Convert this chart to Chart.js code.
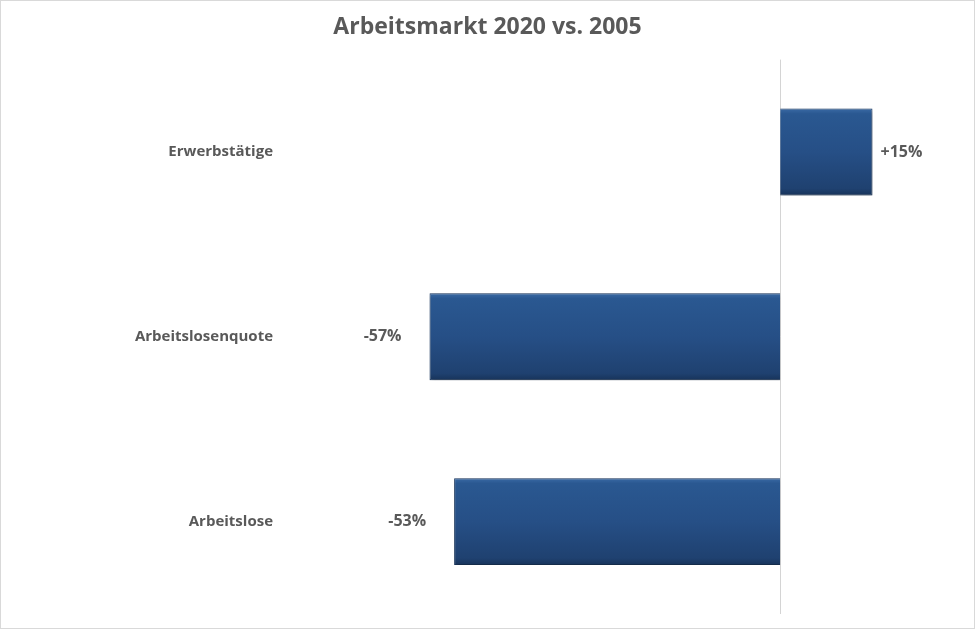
<!DOCTYPE html>
<html>
<head>
<meta charset="utf-8">
<style>
  html, body { margin: 0; padding: 0; background: #fff; }
  #wrap { position: relative; width: 975px; height: 629px; box-sizing: border-box; border: 1px solid #d9d9d9; }
</style>
</head>
<body>
<div id="wrap">
  <canvas id="myChart" width="973" height="627"></canvas>
</div>
<script src="https://cdn.jsdelivr.net/npm/chart.js"></script>
<script>
  const categories = ["Erwerbstätige", "Arbeitslosenquote", "Arbeitslose"];
  const values = [15, -57, -53];
  const valueLabels = ["+15%", "-57%", "-53%"];

  const textColor = "#595959";
  const font = "'Open Sans', Lato, sans-serif";

  // vertical line at zero
  const zeroLine = {
    id: "zeroLine",
    beforeDatasetsDraw(chart) {
      const ctx = chart.ctx;
      const a = chart.chartArea;
      const x = Math.round(chart.scales.x.getPixelForValue(0)) + 0.5;
      ctx.save();
      ctx.strokeStyle = "#d4d4d4";
      ctx.lineWidth = 1;
      ctx.beginPath();
      ctx.moveTo(x, a.top);
      ctx.lineTo(x, a.bottom);
      ctx.stroke();
      ctx.restore();
    },
  };

  // labels next to the bar ends
  const barLabels = {
    id: "barLabels",
    afterDatasetsDraw(chart) {
      const ctx = chart.ctx;
      const meta = chart.getDatasetMeta(0);
      ctx.save();
      ctx.font = "bold 16px " + font;
      ctx.fillStyle = textColor;
      ctx.textBaseline = "middle";
      meta.data.forEach((bar, i) => {
        if (values[i] >= 0) {
          ctx.textAlign = "left";
          ctx.fillText(valueLabels[i], bar.x + 8, bar.y);
        } else {
          ctx.textAlign = "right";
          ctx.fillText(valueLabels[i], bar.x - 28, bar.y);
        }
      });
      ctx.restore();
    },
  };

  // soft shadow under bars
  const barShadow = {
    id: "barShadow",
    beforeDatasetsDraw(chart) {
      const ctx = chart.ctx;
      ctx.save();
      ctx.shadowColor = "rgba(0,0,0,0.35)";
      ctx.shadowBlur = 4;
      ctx.shadowOffsetX = 1;
      ctx.shadowOffsetY = 2;
    },
    afterDatasetsDraw(chart) {
      chart.ctx.restore();
    },
  };

  function barFill(c) {
    const chart = c.chart;
    const area = chart.chartArea;
    const y = chart.scales.y;
    if (!area || !y || c.dataIndex === undefined) return "#244b80";
    const cy = y.getPixelForValue(c.dataIndex);
    const h = (area.bottom - area.top) / categories.length * 0.47;
    if (!Number.isFinite(cy) || !Number.isFinite(h)) return "#244b80";
    const g = chart.ctx.createLinearGradient(0, cy - h / 2, 0, cy + h / 2);
    g.addColorStop(0, "#3a6aa5");
    g.addColorStop(0.06, "#2a5891");
    g.addColorStop(0.5, "#264f86");
    g.addColorStop(0.92, "#1f4170");
    g.addColorStop(1, "#17335a");
    return g;
  }

  new Chart(document.getElementById("myChart"), {
    type: "bar",
    data: {
      labels: categories,
      datasets: [
        {
          data: values,
          backgroundColor: barFill,
          borderColor: "#1b3a64",
          borderWidth: 1,
          categoryPercentage: 1,
          barPercentage: 0.47,
        },
      ],
    },
    plugins: [zeroLine, barShadow, barLabels],
    options: {
      indexAxis: "y",
      responsive: false,
      animation: false,
      layout: { padding: { left: 0, right: 0, top: 0, bottom: 14 } },
      plugins: {
        legend: { display: false },
        tooltip: { enabled: false },
        title: {
          display: true,
          text: "Arbeitsmarkt 2020 vs. 2005",
          color: textColor,
          font: { family: font, size: 23, weight: "bold" },
          padding: { top: 13, bottom: 18 },
        },
      },
      scales: {
        x: {
          display: false,
          min: -80,
          max: 31.5,
        },
        y: {
          ticks: {
            color: textColor,
            font: { family: font, size: 15, weight: "bold" },
            padding: 15,
          },
          grid: { display: false, drawTicks: false },
          border: { display: false },
          afterFit(scale) {
            scale.width = 287;
            scale.paddingTop = 0;
            scale.paddingBottom = 0;
          },
        },
      },
    },
  });
</script>
</body>
</html>
